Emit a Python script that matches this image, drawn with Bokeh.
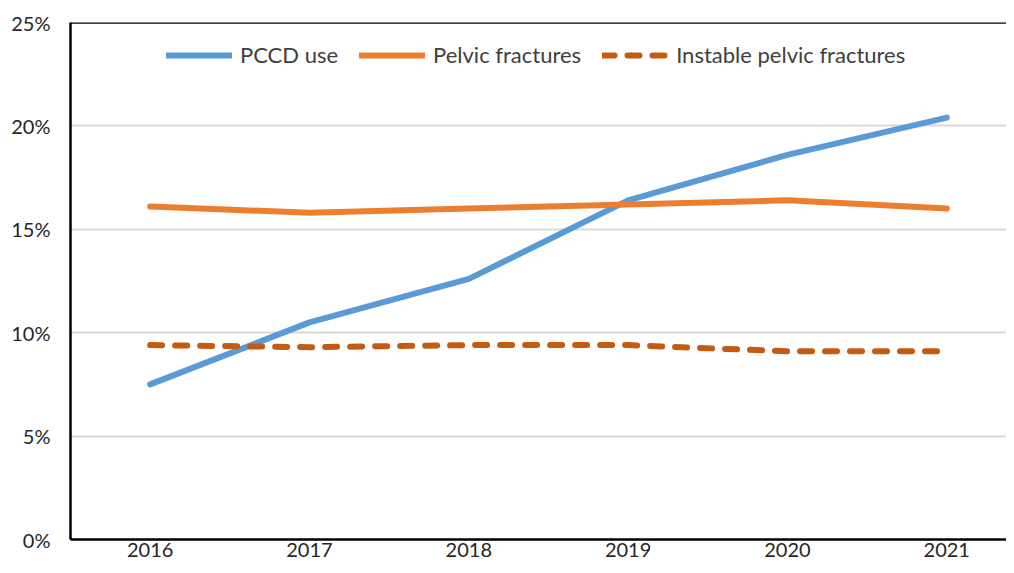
from bokeh.plotting import figure
from bokeh.models import Range1d, FixedTicker, NumeralTickFormatter, Span, Legend, LegendItem
from bokeh.embed import file_html
from bokeh.resources import INLINE

years = [2016, 2017, 2018, 2019, 2020, 2021]
pccd_use = [0.075, 0.105, 0.126, 0.164, 0.186, 0.204]
pelvic_fractures = [0.161, 0.158, 0.160, 0.162, 0.164, 0.160]
instable_pelvic = [0.094, 0.093, 0.094, 0.094, 0.091, 0.091]
y_ticks = [0.0, 0.05, 0.10, 0.15, 0.20, 0.25]
series_names = ["PCCD use", "Pelvic fractures", "Instable pelvic fractures"]

FONT = "Lato"

p = figure(width=1006, height=565, output_backend="svg", toolbar_location=None,
           x_range=Range1d(2015.5, 2021.375), y_range=Range1d(0, 0.25),
           min_border_left=70, min_border_right=0, min_border_top=22, min_border_bottom=26)
p.outline_line_color = None
p.background_fill_color = "white"
p.border_fill_color = "white"

p.xgrid.visible = False
p.ygrid.grid_line_color = "#D9D9D9"
p.ygrid.grid_line_width = 2
p.ygrid.ticker = FixedTicker(ticks=y_ticks)

p.xaxis.ticker = FixedTicker(ticks=years)
p.yaxis.ticker = FixedTicker(ticks=y_ticks)
p.yaxis.formatter = NumeralTickFormatter(format="0%")
for ax in (p.xaxis, p.yaxis):
    ax.axis_line_color = "black"
    ax.axis_line_width = 2.5
    ax.major_tick_line_color = None
    ax.minor_tick_line_color = None
    ax.major_tick_out = 0
    ax.major_tick_in = 0
    ax.major_label_text_font = FONT
    ax.major_label_text_font_size = "20px"
    ax.major_label_text_color = "#262626"
p.xaxis.major_label_standoff = 3
p.yaxis.major_label_standoff = 20

p.add_layout(Span(location=0.25, dimension="width", line_color="black", line_width=2.5))

r1 = p.line(years, pccd_use, line_color="#5B9BD5", line_width=6, line_cap="round", line_join="round")
r2 = p.line(years, pelvic_fractures, line_color="#ED7D31", line_width=6, line_cap="round", line_join="round")
r3 = p.line(years, instable_pelvic, line_color="#C55A11", line_width=6, line_cap="round",
            line_dash="12 13")

legend = Legend(items=[LegendItem(label=series_names[0], renderers=[r1]),
                       LegendItem(label=series_names[1], renderers=[r2]),
                       LegendItem(label=series_names[2], renderers=[r3])],
                orientation="horizontal", location=(96, 471),
                padding=0, margin=0, spacing=21, label_standoff=8,
                glyph_width=66, glyph_height=24, label_height=24,
                label_text_font=FONT, label_text_font_size="22px", label_text_color="#404040",
                background_fill_alpha=0, border_line_color=None)
p.add_layout(legend, "center")

open("out.html", "w").write(file_html(p, INLINE))
